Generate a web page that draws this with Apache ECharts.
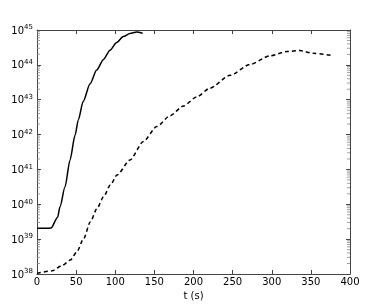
<!DOCTYPE html>
<html><head><meta charset="utf-8">
<script src="https://cdn.jsdelivr.net/npm/echarts@6/dist/echarts.min.js"></script>
<style>html,body{margin:0;padding:0;background:#fff}#c{width:391px;height:305px}</style>
</head><body><div id="c"></div>
<script>
var solidT = [0, 10, 17.9, 26.4, 29.4, 35.8, 42.2, 48.6, 52.8, 59, 67.7, 76.3, 84.7, 93.3, 101.8, 110.3, 118.8, 127.4, 135];
var solidL = [2.04e39, 2.04e39, 2.09e39, 4.27e39, 8.5e39, 3.16e40, 1.86e41, 9.5e41, 2.63e42, 8.9e42, 2.82e43, 7.1e43, 1.41e44, 2.63e44, 4.37e44, 6.5e44, 7.9e44, 8.7e44, 8.1e44];
var dashT = [0, 19.2, 32, 42.6, 51.1, 59.7, 68.2, 76.7, 85.2, 93.7, 102.2, 118.8, 135.9, 153, 170, 187, 204, 221, 246.6, 272, 297.8, 319, 336, 353, 378.7];
var dashL = [1.05e38, 1.23e38, 1.74e38, 2.51e38, 4.37e38, 1.05e39, 3.16e39, 7.6e39, 1.66e40, 3.55e40, 6.9e40, 1.86e41, 6.3e41, 1.7e42, 3.47e42, 6.6e42, 1.2e43, 2.14e43, 5.0e43, 1.02e44, 1.82e44, 2.4e44, 2.57e44, 2.14e44, 1.82e44];
var xTicks = [0, 50, 100, 150, 200, 250, 300, 350, 400];
var yExps = [38, 39, 40, 41, 42, 43, 44, 45];
var minorMult = [2, 3, 4, 5, 6, 7, 8, 9];

function pairs(a, b) { return a.map(function (v, i) { return [v, b[i]]; }); }
var xMin = xTicks[0], xMax = xTicks[xTicks.length - 1];
var minorL = [], minorR = [];
yExps.slice(0, -1).forEach(function (e) {
  minorMult.forEach(function (m) {
    var v = m * Math.pow(10, e);
    minorL.push([xMin, v]);
    minorR.push([xMax, v]);
  });
});

var FONT = 'DejaVu Sans';
var axisCol = '#444';
var minorCol = '#888';
var chart = echarts.init(document.getElementById('c'), null, { renderer: 'canvas' });
function yFmt(v) {
  var e = Math.round(Math.log10(v));
  return '{b|10}{s|' + e + '}';
}
var yMin = Math.pow(10, yExps[0]), yMax = Math.pow(10, yExps[yExps.length - 1]);
function tickSeries(data, off) {
  return { type: 'scatter', data: data, silent: true, clip: false, z: 1,
    symbol: 'rect', symbolSize: [3, 1], symbolOffset: [off, 0],
    itemStyle: { color: minorCol }, emphasis: { disabled: true } };
}
chart.setOption({
  animation: false,
  backgroundColor: '#fff',
  grid: { left: 37, right: 41, top: 30, bottom: 31, containLabel: false, outerBoundsMode: 'none' },
  xAxis: [
    {
      type: 'value', min: xMin, max: xMax, interval: 50,
      name: 't (s)', nameLocation: 'middle', nameGap: 13,
      nameTextStyle: { fontFamily: FONT, fontSize: 10, color: '#000' },
      axisLine: { show: true, onZero: false, lineStyle: { color: axisCol, width: 1 } }, splitLine: { show: false },
      axisTick: { show: true, inside: true, length: 4, lineStyle: { color: axisCol } },
      axisLabel: { fontFamily: FONT, fontSize: 10, color: '#000', margin: 3 }
    },
    {
      type: 'value', position: 'top', min: xMin, max: xMax, interval: 50,
      axisLine: { show: true, onZero: false, lineStyle: { color: axisCol, width: 1 } }, splitLine: { show: false },
      axisTick: { show: true, inside: true, length: 4, lineStyle: { color: axisCol } },
      axisLabel: { show: false }
    }
  ],
  yAxis: [
    {
      type: 'log', logBase: 10, min: yMin, max: yMax,
      name: 'L (erg/s)', nameLocation: 'middle', nameGap: 29, nameRotate: 90,
      nameTextStyle: { fontFamily: FONT, fontSize: 10, color: '#000' },
      axisLine: { show: true, onZero: false, lineStyle: { color: axisCol, width: 1 } }, splitLine: { show: false },
      axisTick: { show: true, inside: true, length: 4, lineStyle: { color: axisCol } },
      axisLabel: { formatter: yFmt, margin: 4, rich: {
        b: { fontFamily: FONT, fontSize: 10, color: '#000', verticalAlign: 'bottom', lineHeight: 12 },
        s: { fontFamily: FONT, fontSize: 7, color: '#000', verticalAlign: 'top', lineHeight: 12, padding: [0, 0, 6, 0] }
      } }
    },
    {
      type: 'log', logBase: 10, position: 'right', min: yMin, max: yMax,
      axisLine: { show: true, onZero: false, lineStyle: { color: axisCol, width: 1 } }, splitLine: { show: false },
      axisTick: { show: true, inside: true, length: 4, lineStyle: { color: axisCol } },
      axisLabel: { show: false }
    }
  ],
  series: [
    { type: 'line', data: pairs(solidT, solidL), showSymbol: false, smooth: 0.25, smoothMonotone: 'x',
      lineStyle: { color: '#000', width: 1.5 } },
    { type: 'line', data: pairs(dashT, dashL), showSymbol: false, smooth: 0.25, smoothMonotone: 'x',
      lineStyle: { color: '#000', width: 1.5, type: [4, 3] } },
    tickSeries(minorL, 1.5),
    tickSeries(minorR, -1.5)
  ]
});
</script></body></html>
